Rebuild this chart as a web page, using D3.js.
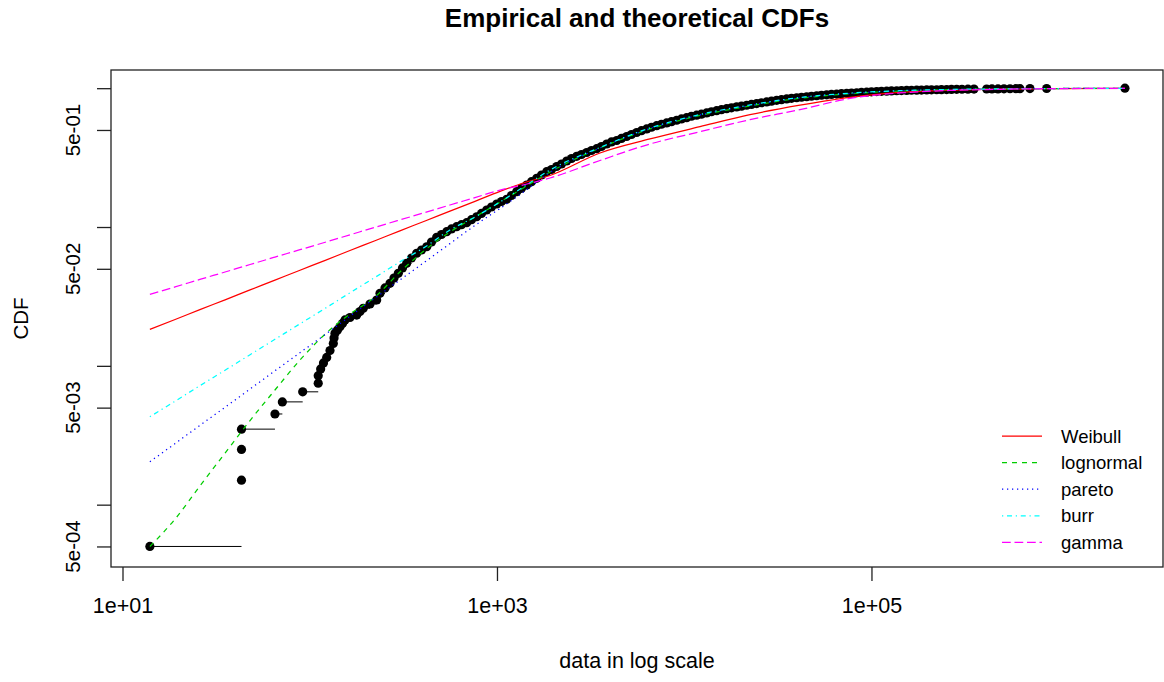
<!DOCTYPE html>
<html><head><meta charset="utf-8">
<script src="https://cdn.jsdelivr.net/npm/d3@7"></script>
<style>
body{margin:0;background:#fff}
text{font-family:"Liberation Sans",Arial,sans-serif;fill:#000}
</style>
</head><body><svg id="c" width="1164" height="682"></svg>
<script>
// ---- empirical data (value, empirical CDF) ----
const empX = [14.0,43.2,43.2,43.2,65.2,71.4,91.7,111,111,114.4,118.4,123.2,128.3,133.6,134.8,136.4,140.7,145.0,149.6,154.3,164.0,178.1,185.5,193.2,209.8,227.8,237.3,252.3,268.3,281.8,297.2,312.9,329.5,349.5,372.6,395.3,421.4,447.0,476.5,505.4,538.8,571.5,609.3,646.4,689.0,730.9,779.2,826.6,881.0,934.6,996.4,1057,1127,1195,1274,1352,1441,1529,1630,1729,1843,1955,2084,2211,2357,2500,2666,2827,3014,3197,3409,3615,3854,4088,4359,4623,4928,5229,5574,5912,6303,6685,7127,7559,8060,8549,9114,9668,10306,10932,11654,12362,13180,13980,14905,15810,16857,17880,19062,20222,21559,22869,24380,25862,27571,29246,31179,33073,35258,37400,39871,42294,45088,47826,50987,54085,57658,61160,65203,69164,73734,78213,83382,88447,94292,100007,106615,113092,120567,127891,136343,144626,154185,163551,174360,184950,197180,209150,222970,236520,252150,267470,285150,304310,327580,352830,412300,440000,473900,510200,549300,591300,621000,702200,862400,2258000];
const empF = [0.0005,0.0015,0.0025,0.0035,0.0045,0.0055,0.0065,0.0075,0.0085,0.0095,0.0105,0.0115,0.0129,0.0145,0.0159,0.0172,0.0181,0.0191,0.0202,0.0214,0.0223,0.0232,0.0246,0.0260,0.0279,0.0298,0.0333,0.0364,0.0393,0.0429,0.0464,0.0507,0.0548,0.0598,0.0647,0.0683,0.0721,0.0780,0.0843,0.0883,0.0925,0.0968,0.1005,0.1039,0.1074,0.1129,0.1186,0.1252,0.1326,0.1394,0.1465,0.1527,0.1584,0.1687,0.1797,0.1901,0.2008,0.2121,0.2244,0.2370,0.2503,0.2596,0.2729,0.2844,0.2989,0.3116,0.3232,0.3330,0.3442,0.3558,0.3667,0.3803,0.3964,0.4098,0.4201,0.4343,0.4489,0.4640,0.4797,0.4944,0.5085,0.5230,0.5370,0.5496,0.5616,0.5738,0.5873,0.6001,0.6132,0.6276,0.6391,0.6498,0.6629,0.6763,0.6887,0.7002,0.7119,0.7226,0.7335,0.7421,0.7533,0.7633,0.7748,0.7852,0.7957,0.8064,0.8172,0.8267,0.8364,0.8448,0.8532,0.8603,0.8675,0.8747,0.8820,0.8893,0.8953,0.9011,0.9071,0.9131,0.9177,0.9222,0.9268,0.9314,0.9361,0.9407,0.9454,0.9486,0.9517,0.9549,0.9581,0.9612,0.9628,0.9660,0.9676,0.9693,0.9709,0.9725,0.9741,0.9757,0.9773,0.9790,0.9806,0.9822,0.9838,0.9855,0.9865,0.9875,0.9885,0.9895,0.9905,0.9915,0.9925,0.9935,0.9945,0.9995];

// ---- fitted theoretical CDFs, read at these data values ----
const theoX = [14,19.1,25.9,35.3,48,65.2,88.7,121,164,223,303,413,561,763,1038,1411,1919,3549,6563,12140,22450,41520,76780,142000,262600,485700,898100,2258000];
const weibullF   = [0.01833,0.02158,0.02541,0.02990,0.03523,0.04145,0.04885,0.05748,0.06773,0.07966,0.09392,0.1105,0.1302,0.1532,0.1806,0.2093,0.2350,0.3414,0.4307,0.5282,0.6444,0.7546,0.8603,0.9314,0.9660,0.9838,0.9920,0.9970];
const lognormalF = [0.0005,0.000788,0.001362,0.002354,0.004037,0.006696,0.01101,0.01696,0.02362,0.03132,0.04742,0.06829,0.09205,0.1181,0.1514,0.1942,0.2490,0.3710,0.5085,0.6359,0.7446,0.8461,0.9117,0.9549,0.9773,0.9871,0.9937,0.9986];
const paretoF    = [0.002038,0.002757,0.003724,0.005031,0.006808,0.009207,0.01244,0.01681,0.02274,0.03075,0.04152,0.05617,0.07592,0.1027,0.1360,0.1818,0.2470,0.3710,0.5127,0.6412,0.7508,0.8532,0.9161,0.9581,0.9773,0.9871,0.9937,0.9986];
const burrF      = [0.004300,0.005562,0.007191,0.009299,0.01203,0.01553,0.02008,0.02597,0.03358,0.04335,0.05607,0.07177,0.09517,0.1181,0.1514,0.1974,0.2574,0.3741,0.5170,0.6465,0.7571,0.8574,0.9207,0.9596,0.9790,0.9887,0.9937,0.9986];
const gammaF     = [0.03276,0.03703,0.04194,0.04742,0.05370,0.06071,0.06863,0.07770,0.08787,0.09953,0.1125,0.1272,0.1441,0.1629,0.1845,0.2024,0.2255,0.3014,0.3964,0.4861,0.5932,0.7002,0.8434,0.9237,0.9628,0.9822,0.9920,0.9970];

const fitNames  = ["Weibull","lognormal","pareto","burr","gamma"];
const fitValues = [weibullF, lognormalF, paretoF, burrF, gammaF];
const fitColors = ["#FF0000","#00CD00","#0000FF","#00FFFF","#FF00FF"];
const fitDash   = [null,"5,5","1.25,3.75","1.25,3.75,5,3.75","8.75,3.75"];

const xTicks = [10,1000,100000];
const xTickLabels = ["1e+01","1e+03","1e+05"];
const yTicks = [0.0005,0.001,0.005,0.01,0.05,0.1,0.5,1];
const yTickLabels = ["5e-04","","5e-03","","5e-02","","5e-01",""];

const title = "Empirical and theoretical CDFs";
const xTitle = "data in log scale";
const yTitle = "CDF";

// ---- layout ----
const L = 111, R = 1163, T = 70, B = 567;
const svg = d3.select("#c");
const x = d3.scaleLog().domain([Math.pow(10,0.9386), Math.pow(10,6.557)]).range([L, R]);
const y = d3.scaleLog().domain([Math.pow(10,-3.449), Math.pow(10,0.131)]).range([B, T]);

// empirical horizontals
const emp = empX.map((v,i)=>({x:v, f:empF[i]}));
svg.append("g").selectAll("line").data(emp.slice(0,-1)).join("line")
  .attr("x1", (d)=>x(d.x)).attr("x2", (d,i)=>x(emp[i+1].x))
  .attr("y1", d=>y(d.f)).attr("y2", d=>y(d.f))
  .attr("stroke","#000").attr("stroke-width",1);
// empirical points
svg.append("g").selectAll("circle").data(emp).join("circle")
  .attr("cx", d=>x(d.x)).attr("cy", d=>y(d.f)).attr("r",4.6).attr("fill","#000");

// theoretical curves
const line = d3.line().x(d=>x(d[0])).y(d=>y(d[1])).curve(d3.curveMonotoneX);
fitValues.forEach((vals,k)=>{
  svg.append("path").datum(theoX.map((v,i)=>[v, vals[i]]))
    .attr("d", line).attr("fill","none")
    .attr("stroke", fitColors[k]).attr("stroke-width",1.25)
    .attr("stroke-dasharray", fitDash[k]);
});

// box
svg.append("rect").attr("x",L).attr("y",T).attr("width",R-L).attr("height",B-T)
  .attr("fill","none").attr("stroke","#222").attr("stroke-width",1.3);

// x axis
const xa = svg.append("g").attr("transform",`translate(0,${B})`)
  .call(d3.axisBottom(x).tickValues(xTicks).tickSize(14).tickSizeOuter(0).tickFormat((d,i)=>xTickLabels[i]));
xa.select(".domain").remove();
xa.selectAll("line").attr("stroke","#222").attr("stroke-width",1.3);
xa.selectAll("text").attr("font-size","21.5px").attr("y",46).attr("dy",0).attr("fill","#000")
  .style("font-family",'"Liberation Sans",Arial,sans-serif');

// y axis
const ya = svg.append("g").attr("transform",`translate(${L},0)`)
  .call(d3.axisLeft(y).tickValues(yTicks).tickSize(14).tickSizeOuter(0).tickFormat(""));
ya.select(".domain").remove();
ya.selectAll("line").attr("stroke","#222").attr("stroke-width",1.3);
svg.append("g").selectAll("text").data(yTicks.filter((d,i)=>yTickLabels[i]!=="")).join("text")
  .attr("transform", d=>`translate(80,${y(d)}) rotate(-90)`)
  .attr("text-anchor","middle").attr("font-size","20.5px")
  .text(d=>yTickLabels[yTicks.indexOf(d)]);

// titles
svg.append("text").attr("x",(L+R)/2).attr("y",27).attr("text-anchor","middle")
  .attr("font-size","26px").attr("font-weight","bold").text(title);
svg.append("text").attr("x",(L+R)/2).attr("y",668).attr("text-anchor","middle")
  .attr("font-size","21.5px").text(xTitle);
svg.append("text").attr("transform",`translate(28,${(T+B)/2}) rotate(-90)`).attr("text-anchor","middle")
  .attr("font-size","20.5px").text(yTitle);

// legend
const lg = svg.append("g");
fitNames.forEach((n,k)=>{
  const cy = 436 + k*26.6;
  lg.append("line").attr("x1",1002).attr("x2",1042).attr("y1",cy).attr("y2",cy)
    .attr("stroke",fitColors[k]).attr("stroke-width",1.25).attr("stroke-dasharray",fitDash[k]);
  lg.append("text").attr("x",1061).attr("y",cy+6.5).attr("font-size","18.5px").text(n);
});
</script>
</body></html>
